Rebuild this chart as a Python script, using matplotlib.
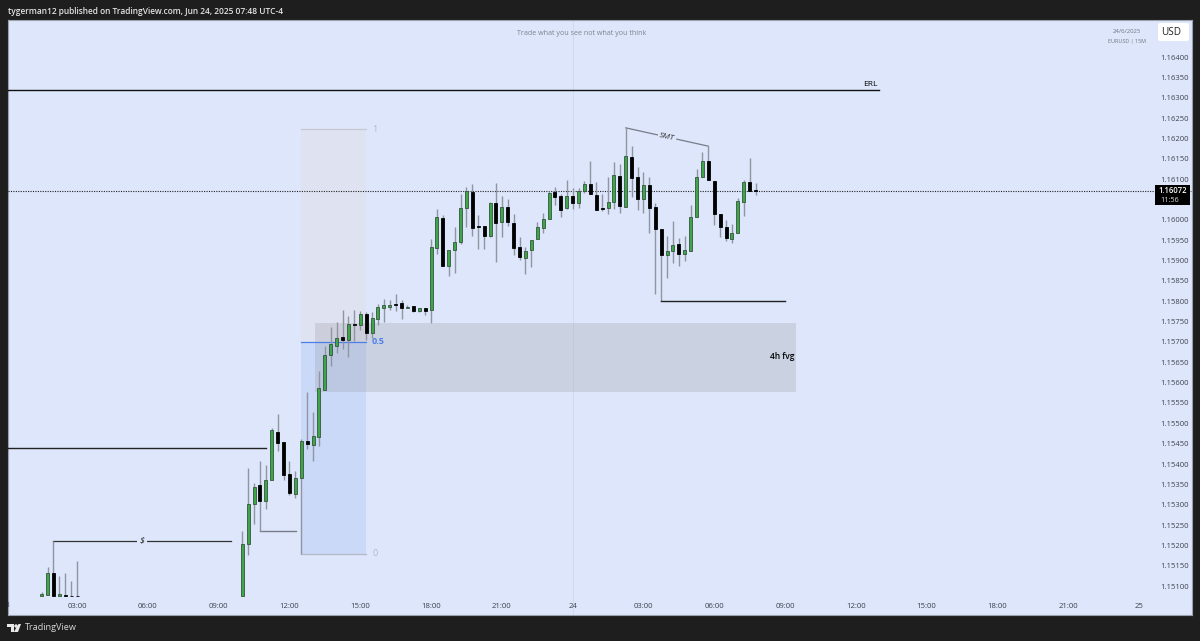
import numpy as np
from matplotlib import pyplot as plt
from matplotlib.patches import Rectangle, FancyBboxPatch, Circle, Polygon

plt.rcParams['font.family'] = ['Open Sans', 'DejaVu Sans']

# 15 minute bars, index 0 is 23 Jun 00:00. Prices in points (1e-5)
idx = [6, 7, 8, 9, 10, 11, 12] + list(range(40, 128))
opens = [115075, 115078, 115132, 115075, 115078, 115076, 115076,
         115075, 115203, 115302, 115348, 115309, 115360, 115478, 115454, 115375, 115326,
         115365, 115456, 115447, 115466, 115582, 115668, 115690, 115712, 115705, 115744,
         115741, 115768, 115722, 115756, 115783, 115786, 115793, 115795, 115783, 115788,
         115776, 115783, 115778, 115931, 116004, 115886, 115926, 115945, 116029, 116068,
         115985, 115985, 115960, 116041, 115995, 116031, 115992, 115933, 115906, 115926,
         115953, 115980, 116002, 116068, 116058, 116029, 116058, 116041, 116071, 116088,
         116061, 116029, 116029, 116044, 116108, 116031, 116154, 116105, 116051, 116086,
         116031, 115977, 115913, 115923, 115940, 115916, 115923, 116007, 116105, 116144,
         116095, 116014, 115982, 115953, 115968, 116044, 116093, 116073]
highs = [115085, 115147, 115211, 115125, 115132, 115112, 115161,
         115235, 115390, 115353, 115407, 115397, 115488, 115523, 115454, 115407, 115383,
         115461, 115577, 115528, 115628, 115690, 115737, 115749, 115778, 115764, 115778,
         115776, 115773, 115773, 115793, 115805, 115803, 115817, 115803, 115791, 115788,
         115783, 115783, 115953, 116026, 116012, 115926, 115982, 116063, 116081, 116088,
         116012, 115985, 116044, 116090, 116058, 116051, 116014, 115958, 115933, 115950,
         115995, 116017, 116071, 116081, 116063, 116098, 116078, 116078, 116095, 116144,
         116093, 116063, 116105, 116142, 116137, 116226, 116181, 116130, 116117, 116105,
         116041, 115977, 115960, 115997, 115955, 115960, 116036, 116125, 116166, 116181,
         116095, 116014, 115999, 115990, 116054, 116098, 116152, 116090]
lows = [115075, 115078, 115075, 115075, 115075, 115075, 115075,
        115075, 115176, 115252, 115235, 115289, 115360, 115432, 115360, 115324, 115316,
        115179, 115437, 115407, 115444, 115582, 115641, 115673, 115682, 115663, 115702,
        115729, 115705, 115709, 115741, 115749, 115778, 115776, 115756, 115783, 115773,
        115773, 115766, 115746, 115916, 115886, 115862, 115869, 115940, 115982, 115960,
        115928, 115928, 115958, 115896, 115958, 115985, 115913, 115901, 115867, 115884,
        115953, 115968, 116002, 116036, 116007, 116027, 116027, 116029, 116066, 116063,
        116024, 116022, 116014, 116027, 116017, 116031, 116056, 116024, 116017, 115968,
        115818, 115800, 115857, 115894, 115886, 115899, 115923, 116007, 116105, 116098,
        115987, 115958, 115948, 115943, 115968, 116009, 116071, 116061]
closes = [115080, 115132, 115075, 115080, 115075, 115075, 115075,
          115203, 115302, 115343, 115309, 115360, 115483, 115451, 115373, 115329, 115365,
          115456, 115449, 115469, 115587, 115668, 115695, 115709, 115705, 115744, 115741,
          115768, 115722, 115759, 115786, 115791, 115791, 115791, 115783, 115786, 115776,
          115783, 115776, 115933, 116007, 115886, 115926, 115945, 116029, 116071, 115980,
          115982, 115960, 116041, 115992, 116031, 115995, 115931, 115908, 115923, 115950,
          115982, 116002, 116066, 116056, 116024, 116058, 116041, 116071, 116088, 116063,
          116024, 116027, 116044, 116110, 116034, 116157, 116103, 116051, 116086, 116029,
          115977, 115913, 115923, 115938, 115916, 115926, 116007, 116105, 116144, 116098,
          116014, 115982, 115955, 115968, 116046, 116093, 116071, 116071]

# 1.16050 is hidden behind the last price tag
price_ticks = [1.15100 + 0.0005 * i for i in range(27) if i != 19]
time_ticks = list(range(12, 193, 12))
time_labels = ['03:00', '06:00', '09:00', '12:00', '15:00', '18:00', '21:00', '24',
               '03:00', '06:00', '09:00', '12:00', '15:00', '18:00', '21:00', '25']

LAST_PRICE = 1.16072
BG = '#dde6fa'
DARK = '#1e1e1e'

idx = np.array(idx)
opens = np.array(opens) / 1e5
highs = np.array(highs) / 1e5
lows = np.array(lows) / 1e5
closes = np.array(closes) / 1e5

fig = plt.figure(figsize=(12, 6.41), dpi=100, facecolor=DARK)
ax = fig.add_axes([8 / 1200, 1 - 615 / 641, 1184 / 1200, 595 / 641], facecolor=BG)
ax.set_xlim((8 - 6.25) / 5.9, (1192 - 6.25) / 5.9)
ax.set_ylim(1.15029, 1.16491)
for s in ax.spines.values():
    s.set_color('#9aa0ad')
    s.set_linewidth(0.8)

# fib box and fvg
ax.axvline(96, color='#d3daec', lw=0.8, zorder=1)
ax.add_patch(Rectangle((50, 1.15701), 11, 1.16223 - 1.15701, fc='#dfe3f1', ec='none', zorder=1))
ax.add_patch(Rectangle((50, 1.15179), 11, 1.15701 - 1.15179, fc='#cbd9f8', ec='none', zorder=1))
ax.add_patch(Rectangle((52.3, 1.15577), 81.6, 1.15746 - 1.15577, fc='#78787a', alpha=0.18, ec='none', zorder=2))
ax.plot([50, 61], [1.16223, 1.16223], color='#c6c9d2', lw=0.9, zorder=2)
ax.plot([50, 61], [1.15701, 1.15701], color='#4d7de8', lw=0.9, zorder=2)
ax.plot([50, 61], [1.15179, 1.15179], color='#b4b8c2', lw=0.9, zorder=2)
ax.text(62, 1.16223, '1', color='#b4b8c2', fontsize=6.5, va='center', ha='left')
ax.text(62, 1.15701, '0.5', color='#4d7de8', fontsize=6.5, va='center', ha='left', fontweight='bold')
ax.text(62, 1.15179, '0', color='#b4b8c2', fontsize=6.5, va='center', ha='left')
ax.text(131.5, 1.15665, '4h fvg', color='black', fontsize=6, va='center', ha='center', fontweight='semibold')

# last price
ax.axhline(LAST_PRICE, color='#222222', lw=0.8, ls=(0, (1, 1.2)), zorder=3)

# candles
up = closes >= opens
ax.vlines(idx, lows, highs, color='#8f95a1', lw=1.0, zorder=4)
ax.bar(idx[up], (closes - opens)[up], bottom=opens[up], width=0.5, color='#3ea648',
       edgecolor='#34553c', linewidth=0.6, zorder=5)
ax.bar(idx[~up], (closes - opens)[~up], bottom=opens[~up], width=0.5, color='black',
       edgecolor='black', linewidth=0.6, zorder=5)

# drawings
ax.plot([0, 148], [1.16319, 1.16319], color='#111111', lw=1.0, zorder=3)
ax.text(146.5, 1.16325, 'ERL', color='black', fontsize=6, ha='center', va='bottom')
ax.plot([0, 44], [1.15439, 1.15439], color='#222222', lw=1.0, zorder=3)
ax.plot([43, 49.1], [1.15235, 1.15235], color='#777c88', lw=1.0, zorder=3)
ax.plot([8, 38.1], [1.15211, 1.15211], color='#333333', lw=0.9, zorder=3)
ax.text(23, 1.15211, '$', color='#222222', fontsize=6.5, style='italic', ha='center', va='center',
        bbox=dict(fc=BG, ec='none', pad=1.5), zorder=4)
ax.plot([105, 119], [1.16226, 1.16181], color='#777c88', lw=0.9, zorder=3)
ax.text(112, 1.16203, 'SMT', color='#333333', fontsize=6, style='italic', rotation=-12, ha='center',
        va='center', bbox=dict(fc=BG, ec='none', pad=1.2), zorder=4)
ax.plot([111, 132], [1.158, 1.158], color='#222222', lw=1.0, zorder=6)

# axes labels sit inside the plot
ax.yaxis.tick_right()
ax.set_yticks(price_ticks, ['%.5f' % p for p in price_ticks])
ax.tick_params(axis='y', length=0, pad=-23, labelsize=5.5, labelcolor='#3c4250')
ax.set_xticks(time_ticks, time_labels)
ax.tick_params(axis='x', length=0, pad=-9, labelsize=5.6, labelcolor='#3c4250')
ax.text(0, 0.0165, '23', color='#3c4250', fontsize=5.6, ha='center', va='center',
        transform=ax.get_xaxis_transform(), clip_on=True)

ax.text(0.4848, 0.9765, 'Trade what you see not what you think', color='#7d828d', fontsize=5.1,
        ha='center', va='center', transform=ax.transAxes)

# chrome in pixel coordinates
top = fig.add_axes([0, 0, 1, 1], facecolor='none')
top.set_xlim(0, 1200)
top.set_ylim(641, 0)
top.axis('off')
top.text(8, 11, 'tygerman12 published on TradingView.com, Jun 24, 2025 07:48 UTC-4', color='#e4e4e4',
         fontsize=6.0, va='center', ha='left', fontweight='semibold')
top.text(1141, 31.5, '24/6/2025', color='#6f7480', fontsize=4.3, ha='right', va='center')
top.text(1146, 42, 'EURUSD | 15M', color='#6f7480', fontsize=3.9, ha='right', va='center')
top.add_patch(FancyBboxPatch((1158, 23), 31, 18, boxstyle='round,pad=0,rounding_size=2', fc='white', ec='none'))
top.text(1171.5, 32.5, 'USD', color='#222222', fontsize=7.2, ha='center', va='center')
top.add_patch(Rectangle((1155, 185), 35, 20, fc='black', ec='none'))
top.text(1172.5, 190.5, '1.16072', color='white', fontsize=5.5, ha='center', va='center', fontweight='semibold')
top.text(1160.5, 200, '11:56', color='#dddddd', fontsize=5.2, ha='left', va='center')

# logo
top.add_patch(Polygon([(7, 624), (14, 624), (14, 632), (11, 632), (11, 627), (7, 627)], fc='#e8e8e8', ec='none'))
top.add_patch(Circle((16, 626), 1.7, fc='#e8e8e8', ec='none'))
top.add_patch(Polygon([(18.5, 624), (21, 624), (18, 632), (13.8, 632)], fc='#e8e8e8', ec='none'))
top.text(25, 628, 'TradingView', color='#d8d8d8', fontsize=6.6, ha='left', va='center')

fig.savefig('out.png', dpi=100, facecolor=DARK)
